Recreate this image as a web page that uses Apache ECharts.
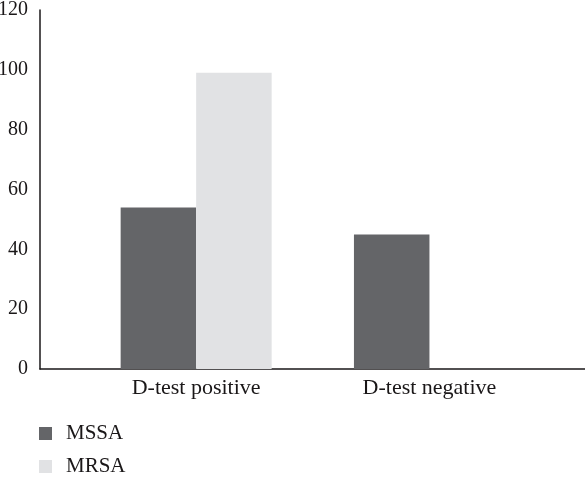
<!DOCTYPE html>
<html><head><meta charset="utf-8">
<script src="https://cdn.jsdelivr.net/npm/echarts@6/dist/echarts.min.js"></script>
<style>html,body{margin:0;padding:0;background:#fff}#c{width:585px;height:490px}</style>
</head><body><div id="c"></div>
<script>
var categories = ["D-test positive", "D-test negative"];
var seriesNames = ["MSSA", "MRSA"];
var mssaValues = [54, 45];
var mrsaValues = [99, 0];
var yTicks = [0, 20, 40, 60, 80, 100, 120];

var font = "'Liberation Serif', 'DejaVu Serif', serif";
var ink = "#1a1718";
var chart = echarts.init(document.getElementById('c'), null, {renderer: 'canvas'});
chart.setOption({
  animation: false,
  backgroundColor: '#fff',
  textStyle: {fontFamily: font, color: ink},
  grid: [
    {left: 40, right: 0, top: 10, bottom: 121, containLabel: false, outerBoundsMode: 'none'},
    {left: 79.5, width: 466.6, top: 10, bottom: 121, containLabel: false, outerBoundsMode: 'none'}
  ],
  xAxis: [
    {gridIndex: 0, type: 'category', data: [''], axisLine: {lineStyle: {color: ink, width: 1.5}},
     axisTick: {show: false}, axisLabel: {show: false}, splitLine: {show: false}},
    {gridIndex: 1, type: 'category', data: categories, axisLine: {show: false}, axisTick: {show: false},
     axisLabel: {fontFamily: font, fontSize: 22, color: ink, margin: 8}}
  ],
  yAxis: [
    {gridIndex: 0, type: 'value', min: yTicks[0], max: yTicks[yTicks.length - 1], interval: 20,
     axisLine: {show: true, lineStyle: {color: ink, width: 1.5}}, axisTick: {show: false},
     splitLine: {show: false},
     axisLabel: {fontFamily: font, fontSize: 20, color: ink, margin: 12}},
    {gridIndex: 1, type: 'value', min: yTicks[0], max: yTicks[yTicks.length - 1], interval: 20, show: false}
  ],
  legend: {
    orient: 'vertical', left: 39, top: 423, padding: 0, itemWidth: 13, itemHeight: 13, itemGap: 12,
    icon: 'rect', data: seriesNames,
    textStyle: {fontFamily: font, fontSize: 21, color: ink, padding: [0, 0, 0, 9]}
  },
  series: [
    {name: seriesNames[0], type: 'bar', xAxisIndex: 1, yAxisIndex: 1, data: mssaValues,
     barWidth: 75.5, barGap: '0%', itemStyle: {color: '#646568'}},
    {name: seriesNames[1], type: 'bar', xAxisIndex: 1, yAxisIndex: 1, data: mrsaValues,
     barWidth: 75.5, barGap: '0%', itemStyle: {color: '#e1e2e4'}}
  ]
});
</script></body></html>
